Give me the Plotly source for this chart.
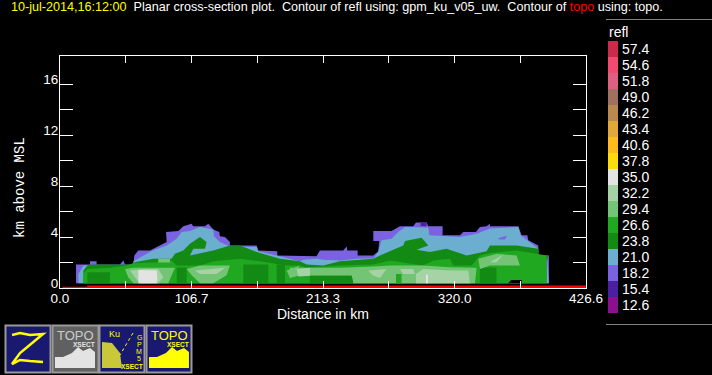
import plotly.graph_objects as go

W, H = 712, 375

legend_labels = ["12.6","15.4","18.2","21.0","23.8","26.6","29.4","32.2","35.0","37.8","40.6","43.4","46.2","49.0","51.8","54.6","57.4"]
legend_colors = ["#8a1090","#4a1fa0","#7b62e0","#6baed0","#138a13","#20a820","#74c476","#a6d3a6","#e3e3e3","#fcdc0c","#fdbb1e","#e0a838","#bb8850","#a07060","#dd6080","#f04a70","#cc2a4a"]
C_156,C_182,C_210,C_238,C_266,C_294,C_322,C_350 = legend_colors[1],legend_colors[2],legend_colors[3],legend_colors[4],legend_colors[5],legend_colors[6],legend_colors[7],legend_colors[8]

x_tick_vals = [0,53.3,106.7,160,213.3,266.6,320,373.3,426.6]
x_tick_text = ["0.0","","106.7","","213.3","","320.0","","426.6"]
y_tick_vals = [0,2,4,6,8,10,12,14,16]
y_tick_text = ["0","","4","","8","","12","","16"]

purple_x = [13,13,24.3,24.3,29.7,29.7,48.6,51.4,52.7,59.5,60.3,63.5,73,86.5,86,96,100,106.8,108,117.6,120.3,124.3,129.2,129.7,133.8,137.8,137.8,159.5,160.8,176.2,176.2,194.6,208.1,210.8,229.7,232.5,233,241.4,241.4,254.1,258.1,258.9,254.1,254.1,268.9,275.7,286.5,288.7,297.3,298.7,310.3,310.3,324.4,327.1,337.3,340.6,346,348.7,348.7,371.7,374.4,379,379.8,387.9,387.9,396.5,396.5]
purple_z = [.37,1.84,1.84,2.1,2.1,1.84,1.84,2.16,1.84,1.84,2.55,2.95,2.95,3.61,4.4,4.48,4.85,5.05,4.85,4.85,5.05,4.58,4.4,4.05,4,3.61,3.34,3.34,2.95,2.89,2.55,2.5,2.5,2.95,2.95,3.26,2.95,2.95,2.55,2.55,2.89,3.68,3.68,4.48,4.48,4.85,4.85,5.13,5.13,4.85,4.85,4.13,4.13,4.4,4.4,4.79,4.85,5.05,4.85,4.85,4.13,4.13,3.74,3.34,2.55,2.55,.37]
indigo_x = [292.5,297.3,297.3,292.5]
indigo_z = [4.85,4.85,5.13,5.13]
blue_x = [14.9,14.9,19,59.5,59.5,74.3,86.5,94.6,98.7,105.4,113.5,124.3,124.9,129.7,137.8,159.5,160.8,175.7,194.6,197.3,208.1,213.5,227,240.6,254.1,258.1,260.8,268.9,274.3,279.8,298.7,299.5,324.4,337.9,348.7,371.7,373.5,379,387.9,387.9,395.2,396.5]
blue_z = [.37,1.1,1.76,1.76,2.1,2.9,3.34,3.87,4.4,4.48,4.79,4.58,4.05,3.61,3.26,3.21,2.89,2.55,2.1,2.21,2.29,2.21,2.16,2.29,2.34,2.82,3.74,3.87,4.4,4.79,4.74,4.13,4,4.26,4.66,4.79,4.13,3.74,3.08,2.55,2.16,.37]
spot_x = [355.4,362.2,361,356]
spot_z = [3.9,4.1,3.8,3.8]
dark_x = [19,19,22.2,25.7,58.1,59.5,75.7,90.5,93.2,100,105.4,113.5,118.9,117.6,108.1,105.4,124.3,137.8,146,159.5,178.4,194.6,200,213.5,227,254.1,259.5,278.4,279.8,293.3,298.7,289.2,300,313.5,329.8,346,348.7,370.3,387.9,387.9,396.5,394.6,394.6]
dark_z = [.37,1.37,1.76,1.84,1.84,2,2.29,2.29,2.68,2.95,3.47,4,3.61,3.08,3.08,2.55,2.95,3.34,3.34,2.82,2.29,2.1,1.84,1.76,2.1,2.29,2.55,3.34,3.68,3.95,3.34,3,2.82,3.08,2.55,2.89,3.34,3.34,3.08,2.55,2.55,2.16,.37]
mid_x = [19,19,22.2,40.5,54,59.5,79.7,90.5,94.6,113.5,124.3,146,167.6,183.8,194.6,200,227,254,267.6,294.6,302.7,316.2,319,333.8,340.6,348.7,370.3,387.9,394.6,394.6]
mid_z = [.37,1.1,1.5,1.58,1.76,1.95,2.02,2.16,1.76,1.76,2.1,2.29,2.02,1.76,1.76,1.58,1.76,1.84,2.16,1.76,2.16,2.29,1.76,1.76,2.55,2.74,2.95,2.68,2.55,.37]

patch_boxes_x0 = [22.2,94.6,148.7,175.7,202.7,272.5,340.6]
patch_boxes_x1 = [40.5,102.7,169,182.5,237.9,277,354]
patch_boxes_z1 = [1.23,1.6,1.84,1.84,1,1.1,1.6]

light_a_x = [52.7,59.5,86.5,93.2,87.8,59.5,55.4]
light_a_z = [1.5,1.58,1.58,1.58,.37,.37,.84]
light_b_x = [102.7,113.5,137.8,135.1,124.3,113.5,106.8]
light_b_z = [1.5,1.76,1.76,1,.37,.37,1]
light_c_x = [183.8,194.6,186.5]
light_c_z = [1.37,1.76,.79]
light_band_x = [186.5,200,227,254,267.6,294.6,316.2,337.9,336.5,237.9,236.5,202.7,193.3,186.5]
light_band_z = [1.58,1.58,1.58,1.68,1.76,1.76,1.63,1.58,.37,.37,.97,.97,.97,.79]
light_d_x = [339.2,354.1,370.3,373,348.7,340.6]
light_d_z = [2.29,2.68,2.55,1.76,1.76,1.5]
light_e_x = [79.7,89.2,89.2,79.7]
light_e_z = [2,2,2.29,2.29]

pale_a_x = [56.8,67.6,79.7,83.8,79.7,64.9,60.8]
pale_a_z = [1.37,1.5,1.5,.84,.37,.37,.84]
pale_b_x = [109.5,127,133.8,127,113.5]
pale_b_z = [1.37,1.5,1.58,1.1,1.1]
pale_c_x = [191.9,202.7,202.7,193.3]
pale_c_z = [1.5,1.58,.97,.9]
pale_d_x = [250,264.9,259.5,254.1]
pale_d_z = [1.37,1.5,.79,.97]
pale_e_x = [275.7,286.5,287.9,278.4]
pale_e_z = [1.5,1.5,1.1,1.1]
pale_f_x = [288.7,294.6,316.2,331.1,332.5,288.7]
pale_f_z = [1.1,1.5,1.37,1.37,.37,.37]
pale_g_x = [348.7,359.5,354]
pale_g_z = [2.02,2.63,2.02]

white_a_x = [63.5,78.4,79,78.4,67.6,63.5]
white_a_z = [1.42,1.37,.79,.37,.37,.37]
white_b_x = [296.8,298.4,298.4,296.8]
white_b_z = [.37,.37,1.05,1.05]

notch_x = [363.5,366,374.4,374.4]
notch_z = [.37,.63,.63,.37]

topo_x = [2,22,22,426.6,426.6,2]
topo_z = [.09,.09,.2,.2,0,0]

fig = go.Figure()

def poly(x, z, color):
    fig.add_trace(go.Scatter(x=x, y=z, mode="lines", fill="toself", fillcolor=color,
                             line=dict(width=0, color=color), hoverinfo="skip", showlegend=False))

poly(purple_x, purple_z, C_182)
poly(indigo_x, indigo_z, C_156)
poly(blue_x, blue_z, C_210)
poly(spot_x, spot_z, C_182)
poly(dark_x, dark_z, C_238)
poly(mid_x, mid_z, C_266)
for a, b, t in zip(patch_boxes_x0, patch_boxes_x1, patch_boxes_z1):
    poly([a, b, b, a], [.37, .37, t, t], C_238)
for lx, lz in [(light_a_x,light_a_z),(light_b_x,light_b_z),(light_c_x,light_c_z),(light_band_x,light_band_z),(light_d_x,light_d_z),(light_e_x,light_e_z)]:
    poly(lx, lz, C_294)
poly([202.7,237.9,236.5,202.7],[.37,.37,.97,.97], C_238)
poly([272.5,277,277,272.5],[.37,.37,1.1,1.1], C_266)
for lx, lz in [(pale_a_x,pale_a_z),(pale_b_x,pale_b_z),(pale_c_x,pale_c_z),(pale_d_x,pale_d_z),(pale_e_x,pale_e_z),(pale_f_x,pale_f_z),(pale_g_x,pale_g_z)]:
    poly(lx, lz, C_322)
poly(white_a_x, white_a_z, C_350)
poly(white_b_x, white_b_z, C_350)
poly(notch_x, notch_z, "#000000")
poly(topo_x, topo_z, "#ff0000")

fig.add_trace(go.Bar(x=[1]*len(legend_labels), y=legend_labels, orientation="h", width=1,
                     marker=dict(color=legend_colors, line=dict(width=0)),
                     xaxis="x2", yaxis="y2", hoverinfo="skip", showlegend=False))

SANS = "Liberation Sans"
def px(v): return v / W
def py(v): return 1 - v / H
def path(pts, close=True):
    s = "M " + " L ".join(f"{px(a):.4f},{py(b):.4f}" for a, b in pts)
    return s + (" Z" if close else "")
def txt(x, y, s, size=12, color="#ffffff", family=SANS, xanchor="center", **kw):
    return dict(x=px(x), y=py(y), xref="paper", yref="paper", text=s, showarrow=False, yanchor="middle", xanchor=xanchor,
                borderpad=0, font=dict(family=family, size=size, color=color), **kw)

NAVY = "#191970"
shapes = [
    dict(type="line", xref="paper", yref="paper", x0=px(606), x1=1, y0=py(19.5), y1=py(19.5), line=dict(color="#808080", width=1)),
    dict(type="line", xref="paper", yref="paper", x0=px(606), x1=1, y0=py(324.5), y1=py(324.5), line=dict(color="#808080", width=1)),
]
for x0, x1, c in [(5.5,50.5,NAVY),(52.5,98.5,"#606060"),(99.5,144.5,NAVY),(146.5,191.5,NAVY)]:
    shapes.append(dict(type="rect", xref="paper", yref="paper", x0=px(x0), x1=px(x1), y0=py(325.5), y1=py(372.5),
                       fillcolor=c, line=dict(color="#9a9a9a", width=2)))
shapes.append(dict(type="path", xref="paper", yref="paper", path=path([(12,335),(20,333),(30,335),(43,334),(20,353),(12,364),(20,360),(30,361),(43,362)], False),
                   line=dict(color="#ffff00", width=2.5)))
mount = [(55,368),(55,357),(63,357),(72,353),(78,347),(83,351),(90,348),(95,352),(95,368)]
shapes.append(dict(type="path", xref="paper", yref="paper", path=path(mount), fillcolor="#e3e3e3", line=dict(width=0)))
shapes.append(dict(type="path", xref="paper", yref="paper", path=path([(a+94,b) for a,b in mount]), fillcolor="#ffff00", line=dict(width=0)))
shapes.append(dict(type="path", xref="paper", yref="paper", path=path([(102,368),(102,342),(112,343),(120,353),(122,368)]), fillcolor="#c8c83a", line=dict(width=0)))
shapes.append(dict(type="path", xref="paper", yref="paper", path=path([(133,333),(120,355)], False), line=dict(color="#ffff00", width=1, dash="dot")))

annotations = [
    txt(10, 7, '<span style="color:#ffff00">10-jul-2014,16:12:00</span>&nbsp;&nbsp;Planar cross-section plot.&nbsp;&nbsp;Contour of refl using: gpm_ku_v05_uw.&nbsp;&nbsp;Contour of <span style="color:#ff0000">topo</span> using: topo.', size=12.6, xanchor="left"),
    txt(323, 314, "Distance in km", size=14),
    txt(20, 188, "km above MSL", size=14, family="Liberation Mono", textangle=-90),
    txt(608, 32, "refl", size=14, xanchor="left"),
    txt(75, 335, "TOPO", size=13, color="#cccccc"),
    txt(84, 344, "<b>XSECT</b>", size=6.5, color="#e3e3e3"),
    txt(169, 335, "TOPO", size=13, color="#ffff00"),
    txt(178, 344, "<b>XSECT</b>", size=6.5, color="#ffff00"),
    txt(114, 334, "Ku", size=9, color="#ffff00"),
    txt(132, 366, "<b>XSECT</b>", size=6.5, color="#ffff00"),
    txt(139, 337, "G", size=7, color="#ffff00"),
    txt(139, 344, "P", size=7, color="#ffff00"),
    txt(139, 351, "M", size=7, color="#ffff00"),
    txt(139, 358, "5", size=7, color="#ffff00"),
]

tickfont = dict(family=SANS, size=13.5, color="#ffffff")
fig.update_layout(
    width=W, height=H, autosize=False, margin=dict(l=0, r=0, t=0, b=0, pad=0),
    paper_bgcolor="#000000", plot_bgcolor="#000000", showlegend=False, bargap=0,
    shapes=shapes, annotations=annotations,
    xaxis=dict(domain=[60/W, 586/W], range=[0, 426.6], tickmode="array", tickvals=x_tick_vals, ticktext=x_tick_text,
               showgrid=False, zeroline=False, showline=True, linecolor="#ffffff", linewidth=1, mirror="ticks", automargin=False,
               ticks="inside", ticklen=7, tickcolor="#ffffff", tickwidth=1, tickfont=tickfont, tickangle=0, ticklabelstandoff=-2),
    yaxis=dict(domain=[(H-288)/H, (H-56)/H], range=[0, 18.2], tickmode="array", tickvals=y_tick_vals, ticktext=y_tick_text,
               showgrid=False, zeroline=False, showline=True, linecolor="#ffffff", linewidth=1, mirror="ticks", automargin=False,
               ticks="inside", ticklen=13, tickcolor="#ffffff", tickwidth=1, tickfont=tickfont, ticklabelshift=-5, ticklabelstandoff=-2),
    xaxis2=dict(domain=[608/W, 618/W], range=[0, 1], anchor="y2", visible=False, fixedrange=True, automargin=False),
    yaxis2=dict(domain=[(H-313)/H, (H-41)/H], anchor="x2", side="right", type="category", showgrid=False, zeroline=False,
                showline=False, ticks="", automargin=False, tickmode="array", tickvals=legend_labels, ticktext=legend_labels,
                ticklabelstandoff=3, tickfont=dict(family=SANS, size=14, color="#ffffff")),
)
fig.write_html("out.html", config=dict(displayModeBar=False), post_script="document.body.style.margin='0';")
